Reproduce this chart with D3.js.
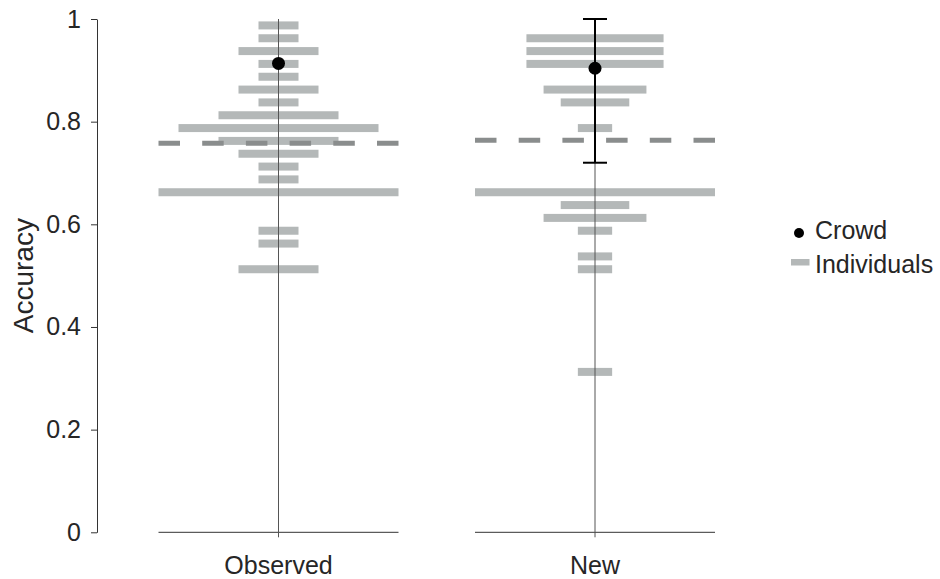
<!DOCTYPE html>
<html>
<head>
<meta charset="utf-8">
<script src="https://cdn.jsdelivr.net/npm/d3@7"></script>
<style>
  body { margin: 0; background: #fff; }
  text { font-family: "Liberation Sans", Arial, sans-serif; fill: #262626; }
</style>
</head>
<body>
<div id="chart"></div>
<script>
// accuracy bins (bin centres) and number of individuals in each
const categories = ["Observed", "New"];
const observedBins = [0.9875, 0.9625, 0.9375, 0.9125, 0.8875, 0.8625, 0.8375, 0.8125, 0.7875, 0.7625, 0.7375, 0.7125, 0.6875, 0.6625, 0.5875, 0.5625, 0.5125];
const observedCounts = [1, 1, 2, 1, 1, 2, 1, 3, 5, 3, 2, 1, 1, 6, 1, 1, 2];
const newBins = [0.9625, 0.9375, 0.9125, 0.8625, 0.8375, 0.7875, 0.6625, 0.6375, 0.6125, 0.5875, 0.5375, 0.5125, 0.3125];
const newCounts = [4, 4, 4, 3, 2, 1, 7, 2, 3, 1, 1, 1, 1];
const individualMean = [0.758, 0.764]; // dashed lines
const crowdAccuracy = [0.9135, 0.904];
const crowdLow = [null, 0.72];
const crowdHigh = [null, 1.0];
const yTicks = [0, 0.2, 0.4, 0.6, 0.8, 1];

const svg = d3.select('#chart').append('svg')
  .attr("width", 940)
  .attr("height", 579);

const y = d3.scaleLinear().domain([0, 1]).range([532.3, 19]);
const x = d3.scalePoint().domain(categories).range([278.5, 595]);
const halfWidth = 120;

// y axis
const yAxis = svg.append("g")
  .attr("transform", "translate(97,0)")
  .call(d3.axisLeft(y).tickValues(yTicks).tickSize(6).tickSizeOuter(0).tickPadding(10)
    .tickFormat(d => d === 0 || d === 1 ? d3.format("d")(d) : d3.format(".1f")(d)));
yAxis.select(".domain").attr("stroke", "#333");
yAxis.selectAll(".tick line").attr("stroke", "#333");
yAxis.selectAll(".tick text").style("font-size", "25px").attr("fill", "#262626");

svg.append("text")
  .attr("transform", "translate(33," + ((y(0) + y(1)) / 2) + ") rotate(-90)")
  .attr("text-anchor", "middle")
  .style("font-size", "28px")
  .text("Accuracy");

const panels = [
  { bins: observedBins, counts: observedCounts },
  { bins: newBins, counts: newCounts }
];

panels.forEach(function(p, i) {
  const cx = x(categories[i]);
  const w = d3.scaleLinear().domain([0, d3.max(p.counts)]).range([0, 2 * halfWidth]);
  const g = svg.append("g");

  // baseline of the panel
  g.append("line")
    .attr("x1", cx - halfWidth).attr("x2", cx + halfWidth)
    .attr("y1", y(0)).attr("y2", y(0))
    .attr("stroke", "#333").attr("stroke-width", 1);

  // histogram bars
  g.selectAll("rect.bar")
    .data(p.bins)
    .enter()
    .append("rect")
      .attr("class", "bar")
      .attr("x", (d, j) => cx - w(p.counts[j]) / 2)
      .attr("y", d => y(d) - 4)
      .attr("width", (d, j) => w(p.counts[j]))
      .attr("height", 8)
      .attr("fill", "#b4b8b8");

  // centre line
  g.append("line")
    .attr("x1", cx).attr("x2", cx)
    .attr("y1", y(1)).attr("y2", y(0) + 5)
    .attr("stroke", "#555").attr("stroke-width", 1);

  // mean of individuals
  g.append("line")
    .attr("x1", cx - halfWidth).attr("x2", cx + halfWidth)
    .attr("y1", y(individualMean[i])).attr("y2", y(individualMean[i]))
    .attr("stroke", "#8a8d8d").attr("stroke-width", 5)
    .attr("stroke-dasharray", "21.5,22.2");

  // crowd error bar
  if (crowdLow[i] !== null) {
    g.append("line")
      .attr("x1", cx).attr("x2", cx)
      .attr("y1", y(crowdLow[i])).attr("y2", y(crowdHigh[i]))
      .attr("stroke", "#000").attr("stroke-width", 2);
    [crowdLow[i], crowdHigh[i]].forEach(function(v) {
      g.append("line")
        .attr("x1", cx - 12).attr("x2", cx + 12)
        .attr("y1", y(v)).attr("y2", y(v))
        .attr("stroke", "#000").attr("stroke-width", 2);
    });
  }

  // crowd dot
  g.append("circle")
    .attr("cx", cx).attr("cy", y(crowdAccuracy[i]))
    .attr("r", 6.5)
    .attr("fill", "#000");

  g.append("text")
    .attr("x", cx).attr("y", 574)
    .attr("text-anchor", "middle")
    .style("font-size", "25px")
    .text(categories[i]);
});

// legend
const legend = svg.append("g");
legend.append("circle").attr("cx", 799).attr("cy", 233).attr("r", 5).attr("fill", "#000");
legend.append("text").attr("x", 815).attr("y", 239).style("font-size", "25px").text("Crowd");
legend.append("rect").attr("x", 791).attr("y", 259).attr("width", 18.5).attr("height", 6.5).attr("fill", "#b4b8b8");
legend.append("text").attr("x", 815).attr("y", 273).style("font-size", "25px").text("Individuals");
</script>
</body>
</html>
